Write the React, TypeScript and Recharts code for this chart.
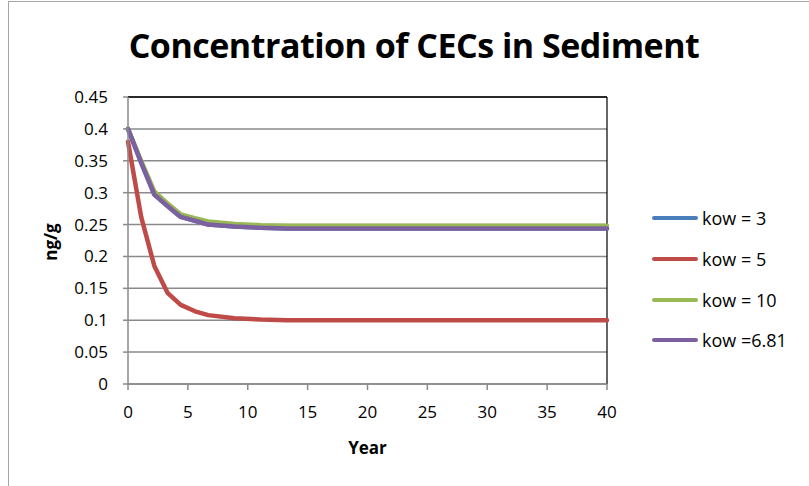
import React from 'react';
import { LineChart, Line, XAxis, YAxis, CartesianGrid, ReferenceLine } from 'recharts';

const years = [0, 1.1, 2.2, 3.3, 4.4, 5.6, 6.7, 8.9, 11.1, 13.3, 15.6, 17.8, 20, 22.2, 24.4, 26.7, 28.9, 31.1, 33.3, 35.6, 37.8, 40];
const kow3 = [0.4, 0.347, 0.297, 0.279, 0.262, 0.256, 0.25, 0.247, 0.245, 0.244, 0.244, 0.244, 0.244, 0.244, 0.244, 0.244, 0.244, 0.244, 0.244, 0.244, 0.244, 0.244];
const kow5 = [0.38, 0.262, 0.185, 0.143, 0.124, 0.114, 0.108, 0.103, 0.101, 0.1, 0.1, 0.1, 0.1, 0.1, 0.1, 0.1, 0.1, 0.1, 0.1, 0.1, 0.1, 0.1];
const kow10 = [0.4, 0.35, 0.302, 0.283, 0.266, 0.26, 0.255, 0.251, 0.249, 0.248, 0.248, 0.248, 0.248, 0.248, 0.248, 0.248, 0.248, 0.248, 0.248, 0.248, 0.248, 0.248];
const kow681 = [0.4, 0.347, 0.297, 0.279, 0.262, 0.256, 0.25, 0.247, 0.245, 0.244, 0.244, 0.244, 0.244, 0.244, 0.244, 0.244, 0.244, 0.244, 0.244, 0.244, 0.244, 0.244];

const xTicks = [0, 5, 10, 15, 20, 25, 30, 35, 40];
const yTicks = [0, 0.05, 0.1, 0.15, 0.2, 0.25, 0.3, 0.35, 0.4, 0.45];

const series = [
  { key: 'kow3', name: 'kow = 3', color: '#4A7EBB', values: kow3 },
  { key: 'kow5', name: 'kow = 5', color: '#BE4B48', values: kow5 },
  { key: 'kow10', name: 'kow = 10', color: '#98B954', values: kow10 },
  { key: 'kow681', name: 'kow =6.81', color: '#7D60A0', values: kow681 },
];

const data = years.map((y, i) => {
  const row: any = { year: y };
  series.forEach((s) => { row[s.key] = s.values[i]; });
  return row;
});

const FONT = '"Open Sans", sans-serif';

export default function App() {
  return (
    <div style={{ position: 'absolute', left: 0, top: 0, width: 809, height: 486, background: '#fff', fontFamily: FONT, overflow: 'hidden' }}>
      <div style={{ position: 'absolute', left: 8, top: 1, width: 820, height: 520, borderLeft: '1px solid #a6a6a6', borderTop: '1px solid #a6a6a6' }} />
      <div style={{ position: 'absolute', left: 0, width: 828, top: 23, textAlign: 'center', fontSize: 34, fontWeight: 700, lineHeight: '44px', color: '#000', letterSpacing: -0.5 }}>
        Concentration of CECs in Sediment
      </div>
      <div style={{ position: 'absolute', left: 0, top: 0 }}>
        <LineChart width={809} height={486} data={data} margin={{ top: 97, right: 202, bottom: 72, left: 68 }}>
          <CartesianGrid horizontal vertical={false} stroke="#8a8a8a" strokeWidth={1.5} />
          <XAxis
            dataKey="year"
            type="number"
            domain={[0, 40]}
            ticks={xTicks}
            height={30}
            stroke="#8a8a8a"
            strokeWidth={1.5}
            tickSize={6}
            tickMargin={16}
            tick={{ fill: '#000', fontSize: 17, fontFamily: FONT }}
            label={{
              content: () => (
                <text x={367.5} y={447} textAnchor="middle" dominantBaseline="central" fontFamily={FONT} fontSize={17} fontWeight={700} fill="#000">Year</text>
              ),
            }}
          />
          <YAxis
            type="number"
            domain={[0, 0.45]}
            ticks={yTicks}
            width={60}
            stroke="#8a8a8a"
            strokeWidth={1.5}
            tickSize={5}
            tickMargin={15}
            tick={{ fill: '#000', fontSize: 17, fontFamily: FONT }}
            label={{
              content: () => (
                <text x={50} y={242} transform="rotate(-90 50 242)" textAnchor="middle" dominantBaseline="central" fontFamily={FONT} fontSize={17} fontWeight={700} fill="#000">ng/g</text>
              ),
            }}
          />
          <ReferenceLine y={0.45} stroke="#000" strokeWidth={1.5} />
          <ReferenceLine x={40} stroke="#000" strokeWidth={1.2} />
          {series.map((s) => (
            <Line key={s.key} dataKey={s.key} name={s.name} stroke={s.color} strokeWidth={4.5} dot={false} type="linear" isAnimationActive={false} strokeLinejoin="round" strokeLinecap="round" />
          ))}
        </LineChart>
      </div>
      <div style={{ position: 'absolute', left: 650, top: 198 }}>
        {series.map((s) => (
          <div key={s.key} style={{ display: 'flex', alignItems: 'center', height: 40.7 }}>
            <div style={{ width: 46, height: 4, borderRadius: 2, background: s.color, marginLeft: 2, marginRight: 4 }} />
            <span style={{ fontSize: 18, color: '#000', fontFamily: FONT, whiteSpace: 'nowrap' }}>{s.name}</span>
          </div>
        ))}
      </div>
    </div>
  );
}
